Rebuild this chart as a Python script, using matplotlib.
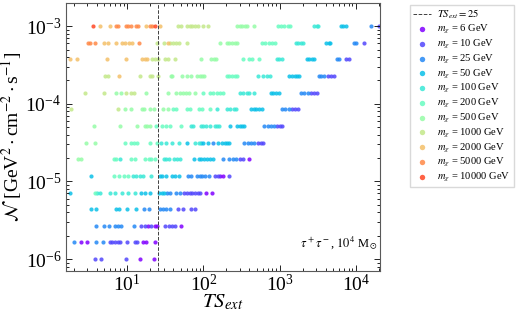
import numpy as np
import matplotlib
matplotlib.use("Agg")
import matplotlib.pyplot as plt

plt.rcParams['font.family'] = ['Liberation Serif', 'DejaVu Serif']
plt.rcParams['mathtext.fontset'] = 'stix'

# flux level -> TS_ext values, one dict per DM mass (GeV)
ts_6 = {
    2.68e-6: [18.7, 22.8, 24.5, 51.0],
    1.64e-6: [2.49, 2.96, 16.0, 17.4, 22.8],
    1e-6: [14.5, 22.1],
    1.18e-5: [167, 183],
    7.2e-6: [109, 129],
    1.93e-5: [393],
}
ts_10 = {
    1e-3: [20280],
    6.11e-4: [12650],
    3.73e-4: [7418, 8035],
    2.28e-4: [4355, 4720, 5115],
    1.39e-4: [2580, 2851, 3062],
    8.48e-5: [1454, 1607, 1762],
    5.18e-5: [925, 1012, 1076],
    3.16e-5: [516, 570, 600],
    1.93e-5: [297, 328],
    1.18e-5: [142, 154, 215],
    7.2e-6: [55.3, 60.5, 65.6, 71.1, 77.1, 83.6, 90.5],
    4.39e-6: [46.2, 53.7, 69.0, 77.8],
    2.68e-6: [15.3, 16.9, 20.6, 31.5, 34.8, 38.5, 42.6],
    1.64e-6: [5.87, 6.36, 6.89, 7.46, 8.09, 9.91, 12.5, 13.4],
    1e-6: [3.73, 4.56, 9.70],
}
ts_25 = {
    1e-3: [15770],
    6.11e-4: [9354, 9931],
    3.73e-4: [5597, 6065],
    2.28e-4: [3251, 3524, 3819],
    1.39e-4: [1908, 2110, 2333],
    8.48e-5: [1076, 1189, 1315],
    5.18e-5: [631, 698, 772, 853],
    3.16e-5: [133, 345, 382, 422, 467],
    1.93e-5: [179, 219, 243, 268],
    1.18e-5: [62.4, 69.0, 82.7, 88.7, 96.2, 106, 118],
    7.2e-6: [33.1, 35.9, 43.9, 48.5],
    4.39e-6: [16.4, 19.2, 26.5, 29.4, 32.5, 35.9],
    2.68e-6: [3.92, 4.90, 5.75, 6.82, 7.55, 8.18, 12.1],
    1.64e-6: [1.98, 3.85, 4.80],
}
ts_50 = {
    1e-3: [6383, 6846, 7418],
    6.11e-4: [4059, 4397, 4624],
    3.73e-4: [2265, 2455, 2661, 2851],
    2.28e-4: [1342, 1454, 1576, 1708, 1814],
    1.39e-4: [772, 828, 897, 972],
    8.48e-5: [422, 457, 495, 543, 589],
    5.18e-5: [226, 276, 297, 322, 345],
    3.16e-5: [61.1, 93.3, 98.1, 114, 154, 174, 189, 205, 219],
    1.93e-5: [74.8, 86.9, 94.2, 102, 111, 120, 133],
    1.18e-5: [3.37, 26.5, 28.8, 32.5, 38.9, 42.2, 47.5],
    7.2e-6: [1.75, 15.3, 16.9, 20.0, 26.0, 28.2, 30.5],
    4.39e-6: [3.37, 3.92, 7.18, 7.78, 9.91, 12.9],
}
ts_100 = {
    1e-3: [2851, 3062, 3220],
    6.11e-4: [1641, 1762, 1888, 2009],
    3.73e-4: [916, 993, 1076],
    2.28e-4: [526, 600, 677, 748],
    1.39e-4: [303, 335, 370, 401, 467],
    8.48e-5: [150, 202, 224, 248, 268],
    5.18e-5: [67.6, 72.6, 93.3, 100, 109, 122, 140, 150, 162],
    3.16e-5: [27.9, 32.5, 38.9, 47.1, 76.3, 86.1],
    1.93e-5: [7.94, 29.9, 32.5, 35.2, 40.5, 44.8, 49.5],
    1.18e-5: [11.9, 12.9, 14.5, 16.0, 20.2],
    7.2e-6: [4.00, 4.34, 5.86, 6.82, 8.60, 10.2, 12.5],
}
ts_200 = {
    1e-3: [944, 1043, 1153, 1276, 1369],
    6.11e-4: [588, 650, 719, 796, 861],
    3.73e-4: [335, 393, 431, 532],
    2.28e-4: [202, 219, 238, 258, 279],
    1.39e-4: [98.1, 122, 135, 150, 166, 179],
    8.48e-5: [39.7, 43.9, 60.5, 66.9, 86.9, 96.2, 122],
    5.18e-5: [24.0, 28.5, 31.8, 36.6, 51.0],
    3.16e-5: [9.23, 11.3, 12.2, 13.5, 19.6, 24.5],
    1.93e-5: [6.69, 7.03, 11.3, 12.7, 16.9, 19.2, 20.8, 22.8],
    1.18e-5: [6.69, 7.78, 8.95, 10.2],
    7.2e-6: [3.73],
}
ts_500 = {
    1e-3: [274, 297, 321, 348, 378, 467],
    6.11e-4: [166, 202, 219, 238, 258, 274],
    3.73e-4: [93.3, 126, 137, 147],
    2.28e-4: [37.0, 38.9, 52.1, 60.5, 69.0, 82.7, 88.7, 96.2, 103],
    1.39e-4: [7.18, 8.18, 17.4, 34.1, 43.0, 48.5, 53.7, 59.3, 64.3, 76.3],
    8.48e-5: [9.23, 11.1, 15.7, 16.4, 19.6, 22.1, 29.4, 34.1],
    5.18e-5: [3.62, 7.94, 13.4, 16.9, 18.3, 20.0],
    3.16e-5: [2.84, 3.81],
    1.93e-5: [2.25, 2.49],
}
ts_1000 = {
    1e-3: [46.2, 51.0, 60.5, 65.6, 71.1, 77.1, 83.6, 100, 114],
    6.11e-4: [24.5, 30.8, 35.9, 39.7, 43.9, 47.5, 61.1],
    3.73e-4: [21.3, 22.8, 25.2, 31.5, 34.1, 41.7],
    2.28e-4: [5.05, 5.58, 14.8, 19.6, 21.3, 25.2],
    1.39e-4: [2.76, 4.90, 9.51, 11.3, 12.1],
    8.48e-5: [1.83, 7.55],
}
ts_2000 = {
    1e-3: [4.34, 5.86, 17.7, 27.1],
    6.11e-4: [4.90, 5.58, 7.18, 8.60, 9.23, 10.7, 11.5, 34.1],
    3.73e-4: [1.75, 2.21, 5.42, 9.51, 15.7, 16.9, 18.1],
    2.28e-4: [7.78],
}
ts_5000 = {
    1e-3: [7.03, 7.55, 9.51, 10.2, 11.1, 13.1, 13.8, 20.0, 21.3],
    6.11e-4: [3.05, 3.27, 3.81, 14.1],
}
ts_10000 = {
    1e-3: [3.55, 22.8],
}

masses = [6, 10, 25, 50, 100, 200, 500, 1000, 2000, 5000, 10000]
series = [ts_6, ts_10, ts_25, ts_50, ts_100, ts_200, ts_500, ts_1000,
          ts_2000, ts_5000, ts_10000]
ts_cut = 25

colors = plt.cm.rainbow(np.linspace(0, 1, len(masses) + 1))

fig = plt.figure(figsize=(5.17, 3.16), dpi=100)
ax = fig.add_axes([0.128, 0.142, 0.607, 0.848])

line = ax.axvline(ts_cut, color='0.25', ls='--', lw=0.7, label=r'$TS_{ext}=25$')

handles = [line]
for m, d, c in zip(masses, series, colors):
    xs = []
    ys = []
    for flux, vals in d.items():
        xs += vals
        ys += [flux] * len(vals)
    h = ax.scatter(xs, ys, s=9, color=c, alpha=0.85, lw=0,
                   label=r'$m_\chi$ = %d GeV' % m)
    handles.append(h)

ax.set_xscale('log')
ax.set_yscale('log')
ax.set_xlim(1.58, 2.07e4)
ax.set_ylim(7.0e-7, 1.98e-3)
ax.tick_params(which='both', direction='in', top=True, right=True,
               labelsize=14, width=0.6)
ax.tick_params(axis='x', pad=2)
ax.tick_params(which='major', length=4)
ax.tick_params(which='minor', length=2)
for s in ax.spines.values():
    s.set_linewidth(0.8)
    s.set_color('0.35')

ax.set_xlabel(r'$TS_{ext}$', fontsize=15, labelpad=-2)
ax.set_ylabel(r'$\mathcal{N}$ [GeV$^2\cdot$cm$^{-2}\cdot$s$^{-1}$]', fontsize=14,
              labelpad=1)
ax.text(0.993, 0.105, r'$\tau^+\tau^-$, $10^4$ M$_\odot$', transform=ax.transAxes,
        ha='right', va='center', fontsize=9)

fig.legend(handles=handles, loc='upper left', bbox_to_anchor=(0.793, 0.985),
           borderaxespad=0, fontsize=7.6, labelspacing=0.16, handlelength=1.7,
           handletextpad=0.6, markerscale=1.3, borderpad=0.3, framealpha=1,
           edgecolor='0.85', fancybox=False)

fig.savefig('out.png', dpi=100)
